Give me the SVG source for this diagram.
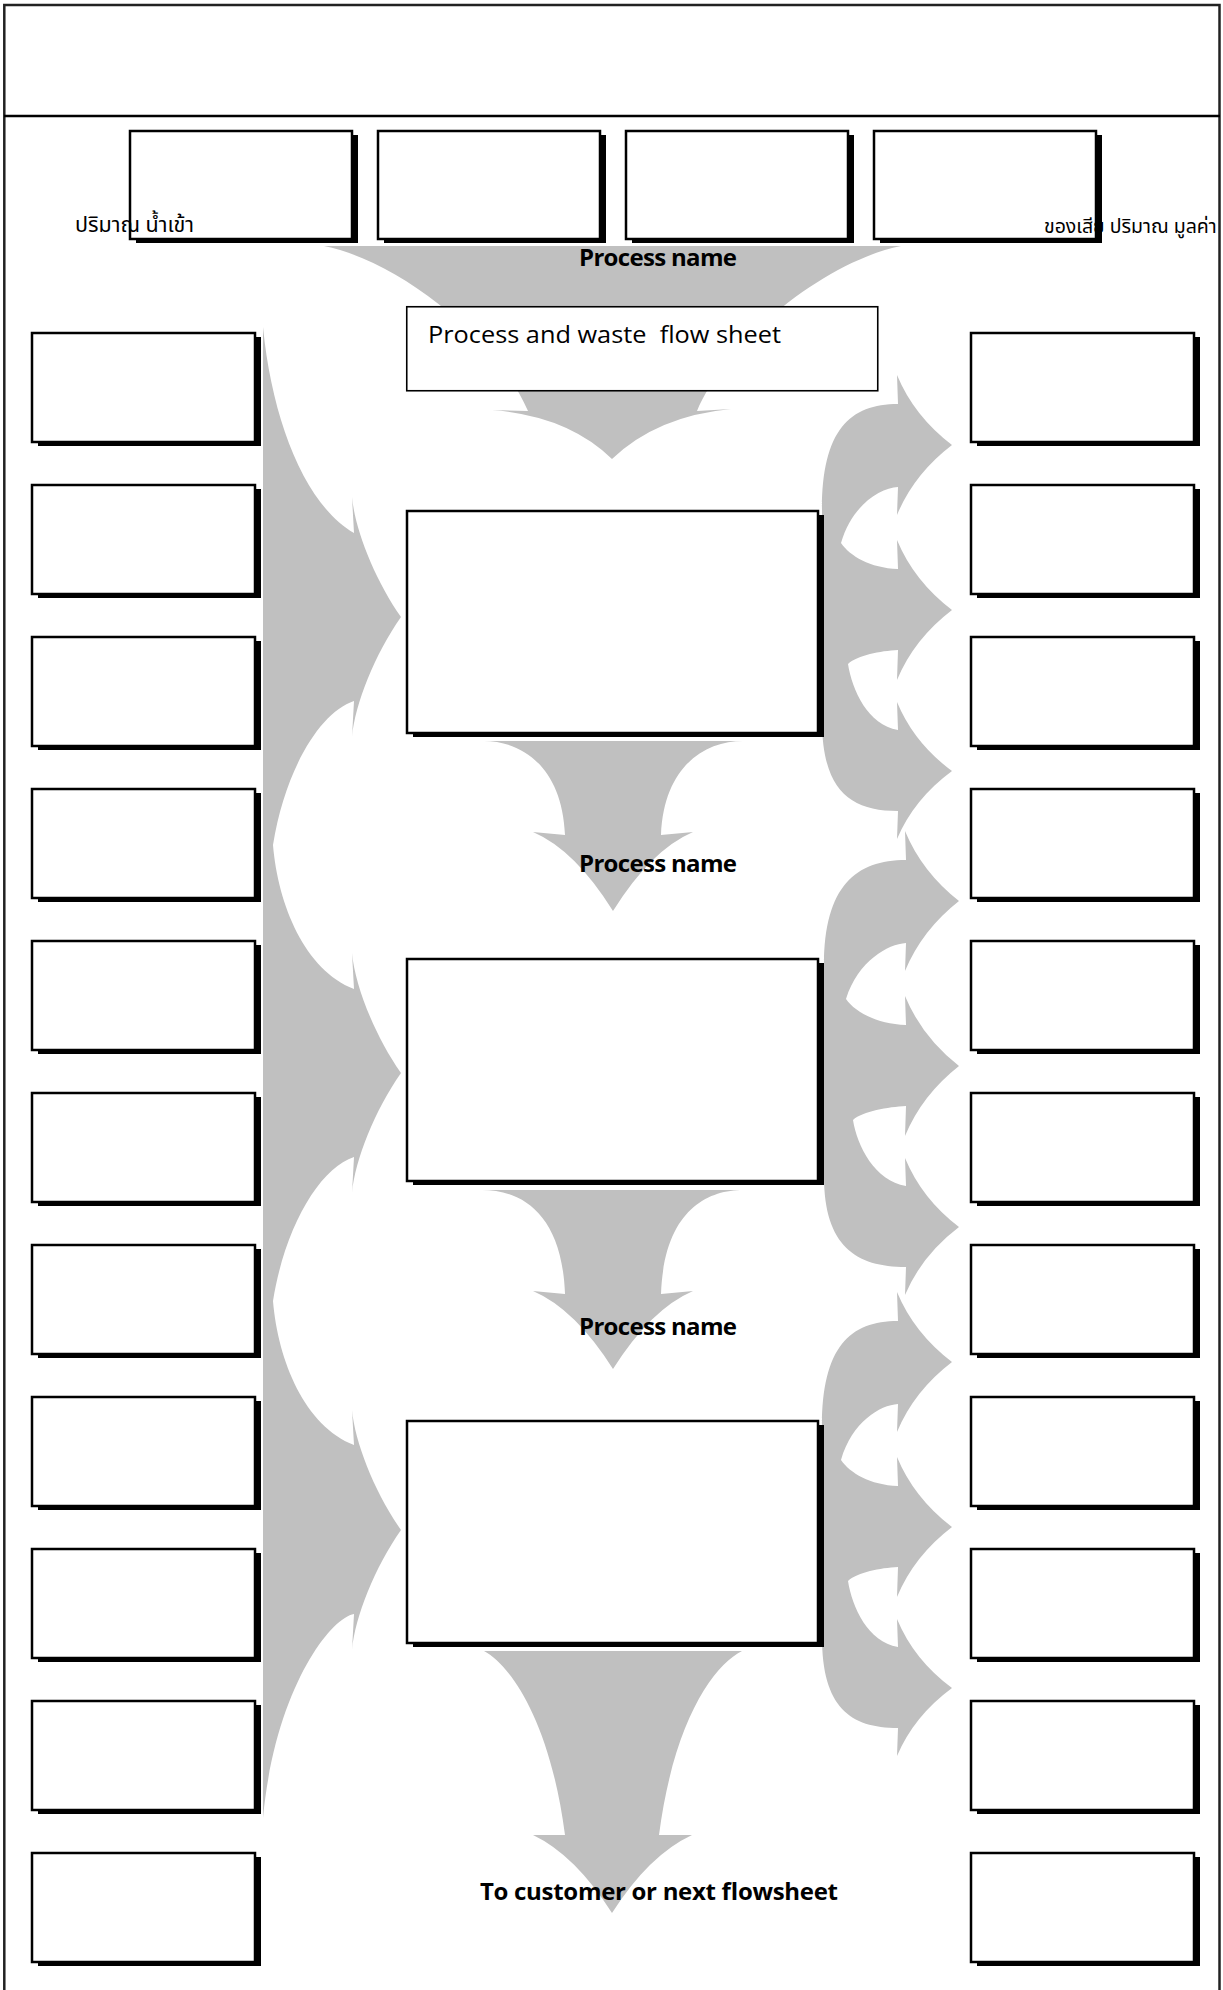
<svg xmlns="http://www.w3.org/2000/svg" width="1223" height="1990" viewBox="0 0 1223 1990">
<style>
.box{fill:#fff;stroke:#000;stroke-width:2.5}
.sh{fill:#000}
.flow{fill:#c0c0c0}
.lbl{font-family:'Open Sans','Noto Sans','Liberation Sans',sans-serif;font-weight:bold;font-size:24px;fill:#000}
.txt{font-family:'Open Sans','Noto Sans','Liberation Sans',sans-serif;font-size:23px;fill:#000}
.thai{font-family:Tahoma,'Noto Sans Thai','DejaVu Sans','Noto Sans',sans-serif;font-size:21.5px;fill:#000}
</style>
<rect x="0" y="0" width="1223" height="1990" fill="#fff"/>
<g id="frame">
<rect x="4.3" y="5" width="1215.2" height="2000" fill="none" stroke="#222" stroke-width="2.5"/>
<line x1="4" y1="116" x2="1220" y2="116" stroke="#000" stroke-width="2.6"/>
</g>
<g id="connectors">
<path id="flow-top" class="flow" d="M324,246 L901,246 C830,260 730,335 697,411 L731,409 Q657,416 612,459 Q568,416 492,410 L528,411 C495,335 395,260 324,246 Z"/>
<path id="flow-p1" class="flow" d="M484,741 C520,741 562,765 565,835 L533,832 Q575,850 613,911 Q651,850 693,832 L661,835 C664,765 706,741 743,741 Z"/>
<path id="flow-p2" class="flow" d="M482,1190 C520,1190 562,1212 565,1294 L533,1291 Q575,1309 613,1369 Q651,1309 693,1291 L661,1294 C664,1212 706,1190 743,1190 Z"/>
<path id="flow-out" class="flow" d="M484,1651 C510,1665 550,1720 565,1835 L533,1835 Q575,1855 612,1913 Q649,1855 692,1835 L659,1835 C674,1720 714,1665 742,1651 Z"/>
<path id="flow-in" class="flow" d="M263,327 C272,420 305,505 354,533 L352,497 C355,530 375,580 401,617 C375,654 355,704 352,737 L354,701 C320,712 285,770 273,845 C278,905 305,970 354,989 L352,953 C355,986 375,1036 401,1073 C375,1110 355,1160 352,1193 L354,1157 C320,1168 285,1226 273,1301 C278,1361 305,1426 354,1445 L352,1410 C355,1443 375,1493 401,1530 C375,1567 355,1617 352,1650 L354,1614 C330,1618 275,1690 263,1818 Z"/>
<path id="flow-w1" class="flow" d="M898,404 L897,375 Q914,416 952,445 Q914,474 897,515 L898,487 C880,488 852,505 841,543 C850,556 870,568 898,569 L897,540 Q914,581 952,610 Q914,639 897,680 L898,650 C880,651 858,655 848,664 C852,690 868,725 898,730 L897,702 Q914,743 952,771 Q914,799 897,839 L898,811 C850,811 822,790 822,720 L822,510 C822,430 850,404 898,404 Z"/>
<path id="flow-w2" class="flow" d="M906,860 L905,831 Q922,872 959,901 Q922,930 905,971 L906,943 C888,944 858,961 846,999 C855,1012 877,1024 906,1025 L905,996 Q922,1037 959,1066 Q922,1095 905,1136 L906,1106 C888,1107 863,1111 853,1120 C857,1146 875,1181 906,1186 L905,1158 Q922,1199 959,1227 Q922,1255 905,1295 L906,1267 C856,1267 824,1246 824,1176 L824,966 C824,886 856,860 906,860 Z"/>
<path id="flow-w3" class="flow" transform="translate(0,917)" d="M898,404 L897,375 Q914,416 952,445 Q914,474 897,515 L898,487 C880,488 852,505 841,543 C850,556 870,568 898,569 L897,540 Q914,581 952,610 Q914,639 897,680 L898,650 C880,651 858,655 848,664 C852,690 868,725 898,730 L897,702 Q914,743 952,771 Q914,799 897,839 L898,811 C850,811 822,790 822,720 L822,510 C822,430 850,404 898,404 Z"/>
</g>
<g id="top-boxes">
<g id="top1"><rect class="sh" x="136" y="135" width="222" height="108"/><rect class="box" x="130" y="131" width="222" height="108"/></g>
<g id="top2"><rect class="sh" x="384" y="135" width="222" height="108"/><rect class="box" x="378" y="131" width="222" height="108"/></g>
<g id="top3"><rect class="sh" x="632" y="135" width="222" height="108"/><rect class="box" x="626" y="131" width="222" height="108"/></g>
<g id="top4"><rect class="sh" x="880" y="135" width="222" height="108"/><rect class="box" x="874" y="131" width="222" height="108"/></g>
</g>
<g id="flowsheet-title"><rect x="406.75" y="306.75" width="471" height="84" fill="#fff" stroke="#000" stroke-width="1.6"/></g>
<g id="process1"><rect class="sh" x="413" y="515" width="411" height="222"/><rect class="box" x="407" y="511" width="411" height="222"/></g>
<g id="process2"><rect class="sh" x="413" y="963" width="411" height="222"/><rect class="box" x="407" y="959" width="411" height="222"/></g>
<g id="process3"><rect class="sh" x="413" y="1425" width="411" height="222"/><rect class="box" x="407" y="1421" width="411" height="222"/></g>
<g id="inputs">
<g id="in1"><rect class="sh" x="38" y="337" width="223" height="109"/><rect class="box" x="32" y="333" width="223" height="109"/></g>
<g id="in2"><rect class="sh" x="38" y="489" width="223" height="109"/><rect class="box" x="32" y="485" width="223" height="109"/></g>
<g id="in3"><rect class="sh" x="38" y="641" width="223" height="109"/><rect class="box" x="32" y="637" width="223" height="109"/></g>
<g id="in4"><rect class="sh" x="38" y="793" width="223" height="109"/><rect class="box" x="32" y="789" width="223" height="109"/></g>
<g id="in5"><rect class="sh" x="38" y="945" width="223" height="109"/><rect class="box" x="32" y="941" width="223" height="109"/></g>
<g id="in6"><rect class="sh" x="38" y="1097" width="223" height="109"/><rect class="box" x="32" y="1093" width="223" height="109"/></g>
<g id="in7"><rect class="sh" x="38" y="1249" width="223" height="109"/><rect class="box" x="32" y="1245" width="223" height="109"/></g>
<g id="in8"><rect class="sh" x="38" y="1401" width="223" height="109"/><rect class="box" x="32" y="1397" width="223" height="109"/></g>
<g id="in9"><rect class="sh" x="38" y="1553" width="223" height="109"/><rect class="box" x="32" y="1549" width="223" height="109"/></g>
<g id="in10"><rect class="sh" x="38" y="1705" width="223" height="109"/><rect class="box" x="32" y="1701" width="223" height="109"/></g>
<g id="in11"><rect class="sh" x="38" y="1857" width="223" height="109"/><rect class="box" x="32" y="1853" width="223" height="109"/></g>
</g>
<g id="outputs">
<g id="out1"><rect class="sh" x="977" y="337" width="223" height="109"/><rect class="box" x="971" y="333" width="223" height="109"/></g>
<g id="out2"><rect class="sh" x="977" y="489" width="223" height="109"/><rect class="box" x="971" y="485" width="223" height="109"/></g>
<g id="out3"><rect class="sh" x="977" y="641" width="223" height="109"/><rect class="box" x="971" y="637" width="223" height="109"/></g>
<g id="out4"><rect class="sh" x="977" y="793" width="223" height="109"/><rect class="box" x="971" y="789" width="223" height="109"/></g>
<g id="out5"><rect class="sh" x="977" y="945" width="223" height="109"/><rect class="box" x="971" y="941" width="223" height="109"/></g>
<g id="out6"><rect class="sh" x="977" y="1097" width="223" height="109"/><rect class="box" x="971" y="1093" width="223" height="109"/></g>
<g id="out7"><rect class="sh" x="977" y="1249" width="223" height="109"/><rect class="box" x="971" y="1245" width="223" height="109"/></g>
<g id="out8"><rect class="sh" x="977" y="1401" width="223" height="109"/><rect class="box" x="971" y="1397" width="223" height="109"/></g>
<g id="out9"><rect class="sh" x="977" y="1553" width="223" height="109"/><rect class="box" x="971" y="1549" width="223" height="109"/></g>
<g id="out10"><rect class="sh" x="977" y="1705" width="223" height="109"/><rect class="box" x="971" y="1701" width="223" height="109"/></g>
<g id="out11"><rect class="sh" x="977" y="1857" width="223" height="109"/><rect class="box" x="971" y="1853" width="223" height="109"/></g>
</g>
<g id="labels">
<text class="thai" x="75" y="232">ปริมาณ น้ำเข้า</text>
<text class="thai" x="1044" y="233" style="font-size:19.5px">ของเสีย ปริมาณ มูลค่า</text>
<text class="lbl" x="579" y="266" textLength="158" lengthAdjust="spacing">Process name</text>
<text class="txt" x="428" y="343" xml:space="preserve" textLength="353" lengthAdjust="spacingAndGlyphs">Process and waste  flow sheet</text>
<text class="lbl" x="579" y="872" textLength="158" lengthAdjust="spacing">Process name</text>
<text class="lbl" x="579" y="1335" textLength="158" lengthAdjust="spacing">Process name</text>
<text class="lbl" x="480" y="1900" textLength="358" lengthAdjust="spacing">To customer or next flowsheet</text>
</g>
</svg>
